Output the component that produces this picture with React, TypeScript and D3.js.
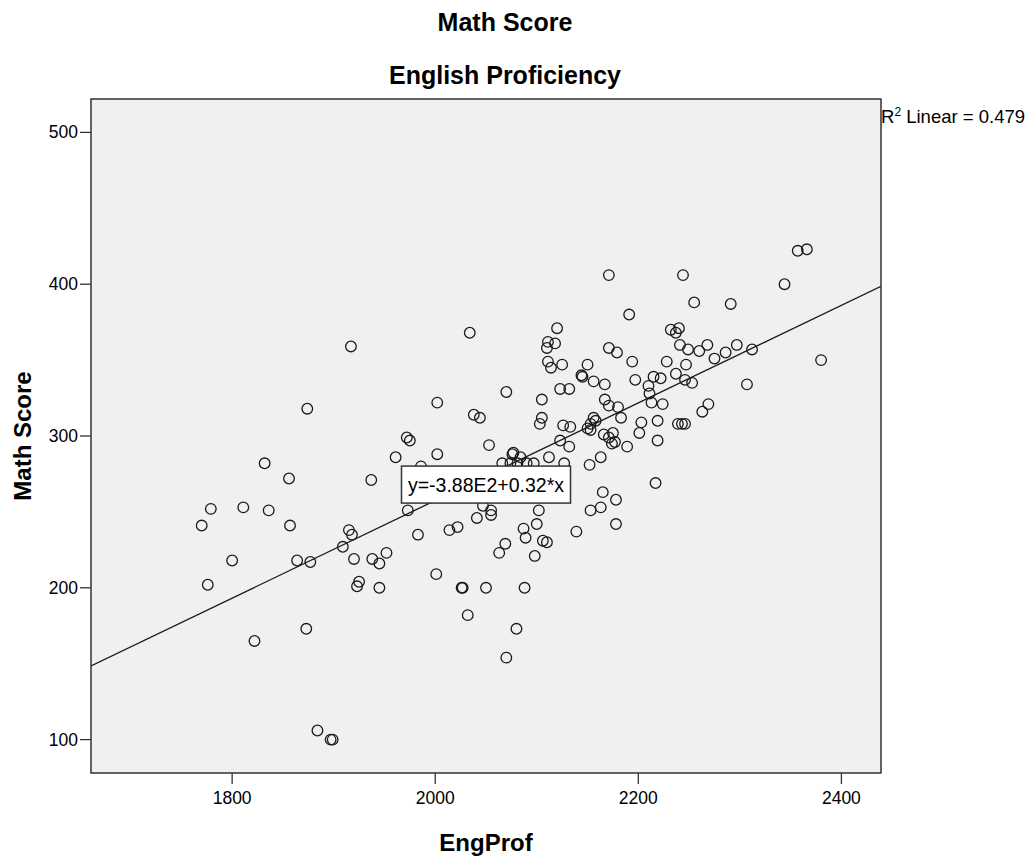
import React from 'react';
import * as d3 from 'd3';

const engProf = [
  1917, 1874, 1972, 1975, 2002, 2002, 1961, 1986, 1832, 1856, 1937, 1779, 1811, 1836, 1770, 1857,
  1915, 1918, 1973, 1983, 1909, 1800, 1864, 1877, 1920, 1938, 1945, 1952, 2001, 1776, 1925, 1923,
  1945, 1873, 1822, 1884, 1899, 1897, 2034, 2120, 2111, 2118, 2110, 2111, 2125, 2114, 2150, 2144,
  2145, 2156, 2167, 2171, 2179, 2070, 2123, 2132, 2105, 2038, 2044, 2105, 2103, 2167, 2171, 2126,
  2133, 2156, 2153, 2150, 2158, 2166, 2171, 2174, 2177, 2053, 2123, 2132, 2077, 2076, 2112, 2163,
  2152, 2127, 2084, 2066, 2074, 2081, 2090, 2097, 2165, 2178, 2153, 2163, 2102, 2047, 2055, 2055,
  2041, 2100, 2178, 2014, 2022, 2087, 2089, 2069, 2063, 2106, 2110, 2139, 2098, 2027, 2026, 2050,
  2088, 2032, 2080, 2070, 2171, 2244, 2255, 2291, 2191, 2232, 2240, 2237, 2241, 2249, 2268, 2260,
  2194, 2228, 2247, 2275, 2286, 2297, 2237, 2197, 2215, 2222, 2246, 2253, 2210, 2211, 2213, 2224,
  2180, 2183, 2203, 2201, 2219, 2239, 2243, 2246, 2269, 2263, 2175, 2189, 2219, 2217, 2357, 2366,
  2344, 2312, 2380, 2307, 2153,
];

const mathScore = [
  359, 318, 299, 297, 322, 288, 286, 280, 282, 272, 271, 252, 253, 251, 241, 241,
  238, 235, 251, 235, 227, 218, 218, 217, 219, 219, 216, 223, 209, 202, 204, 201,
  200, 173, 165, 106, 100, 100, 368, 371, 362, 361, 358, 349, 347, 345, 347, 340,
  339, 336, 334, 358, 355, 329, 331, 331, 324, 314, 312, 312, 308, 324, 320, 307,
  306, 312, 308, 305, 310, 301, 299, 295, 296, 294, 297, 293, 289, 288, 286, 286,
  281, 282, 286, 282, 282, 282, 282, 282, 263, 258, 251, 253, 251, 254, 251, 248,
  246, 242, 242, 238, 240, 239, 233, 229, 223, 231, 230, 237, 221, 200, 200, 200,
  200, 182, 173, 154, 406, 406, 388, 387, 380, 370, 371, 368, 360, 357, 360, 356,
  349, 349, 347, 351, 355, 360, 341, 337, 339, 338, 337, 335, 333, 328, 322, 321,
  319, 312, 309, 302, 310, 308, 308, 308, 321, 316, 302, 293, 297, 269, 422, 423,
  400, 357, 350, 334, 304,
];

const xTicks = [1800, 2000, 2200, 2400];
const yTicks = [100, 200, 300, 400, 500];
const xDomain = [1661, 2439];
const yDomain = [78, 522];
const fitIntercept = -385.5;
const fitSlope = 0.3215;
const fitLabel = 'y=-3.88E2+0.32*x';
const fitLabelAt = [2050, 268];
const r2Value = '0.479';
const chartTitle = 'Math Score';
const chartSubtitle = 'English Proficiency';
const xTitle = 'EngProf';
const yTitle = 'Math Score';

const FONT = '"Liberation Sans", Arial, sans-serif';

export default function App() {
  const W = 1027;
  const H = 858;
  const plot = { left: 91, top: 99, right: 881, bottom: 773 };
  const x = d3.scaleLinear().domain(xDomain).range([plot.left, plot.right]);
  const y = d3.scaleLinear().domain(yDomain).range([plot.bottom, plot.top]);
  const fit = (v: number) => fitIntercept + fitSlope * v;
  const line = d3
    .line<number>()
    .x((d) => x(d))
    .y((d) => y(fit(d)));
  const points = engProf.map((e, i) => ({ e, m: mathScore[i] }));
  const tickLen = 11;
  const boxW = 169;
  const boxH = 37;
  const bx = x(fitLabelAt[0]);
  const by = y(fitLabelAt[1]);

  return (
    <svg
      width={W}
      height={H}
      style={{ position: 'absolute', left: 0, top: 0, background: '#fff' }}
      fontFamily={FONT}
    >
      <rect x={0} y={0} width={W} height={H} fill="#fff" />
      <text x={505} y={31} textAnchor="middle" fontWeight="bold" fontSize={25} fill="#000">
        {chartTitle}
      </text>
      <text x={505} y={84} textAnchor="middle" fontWeight="bold" fontSize={25} fill="#000">
        {chartSubtitle}
      </text>
      <defs>
        <clipPath id="plotClip">
          <rect x={plot.left} y={plot.top} width={plot.right - plot.left} height={plot.bottom - plot.top} />
        </clipPath>
      </defs>
      <rect
        x={plot.left}
        y={plot.top}
        width={plot.right - plot.left}
        height={plot.bottom - plot.top}
        fill="#f0f0f0"
      />
      <g clipPath="url(#plotClip)">
        <path d={line(xDomain) || ''} stroke="#1a1a1a" strokeWidth={1.3} fill="none" />
        {points.map((p, i) => (
          <circle key={i} cx={x(p.e)} cy={y(p.m)} r={5.3} fill="none" stroke="#1a1a1a" strokeWidth={1.3} />
        ))}
      </g>
      <rect
        x={plot.left}
        y={plot.top}
        width={plot.right - plot.left}
        height={plot.bottom - plot.top}
        fill="none"
        stroke="#333"
        strokeWidth={1.5}
      />
      {yTicks.map((t) => (
        <g key={t}>
          <line x1={plot.left - tickLen} x2={plot.left} y1={y(t)} y2={y(t)} stroke="#333" strokeWidth={1.3} />
          <text x={plot.left - tickLen - 2} y={y(t) + 6} textAnchor="end" fontSize={17.5} fill="#000">
            {t}
          </text>
        </g>
      ))}
      {xTicks.map((t) => (
        <g key={t}>
          <line x1={x(t)} x2={x(t)} y1={plot.bottom} y2={plot.bottom + tickLen} stroke="#333" strokeWidth={1.3} />
          <text x={x(t)} y={plot.bottom + 31} textAnchor="middle" fontSize={17.5} fill="#000">
            {t}
          </text>
        </g>
      ))}
      <text x={(plot.left + plot.right) / 2} y={851} textAnchor="middle" fontWeight="bold" fontSize={24} fill="#000">
        {xTitle}
      </text>
      <text
        transform={`translate(31, ${(plot.top + plot.bottom) / 2}) rotate(-90)`}
        textAnchor="middle"
        fontWeight="bold"
        fontSize={24}
        fill="#000"
      >
        {yTitle}
      </text>
      <rect
        x={bx - boxW / 2}
        y={by - boxH / 2}
        width={boxW}
        height={boxH}
        fill="#fff"
        stroke="#333"
        strokeWidth={1.5}
      />
      <text x={bx} y={by + 7} textAnchor="middle" fontSize={19.5} fill="#000">
        {fitLabel}
      </text>
      <text x={plot.right} y={123} fontSize={18.5} fill="#000">
        R
        <tspan fontSize={12} dy={-7}>2</tspan>
        <tspan dy={7}>{` Linear = ${r2Value}`}</tspan>
      </text>
    </svg>
  );
}
